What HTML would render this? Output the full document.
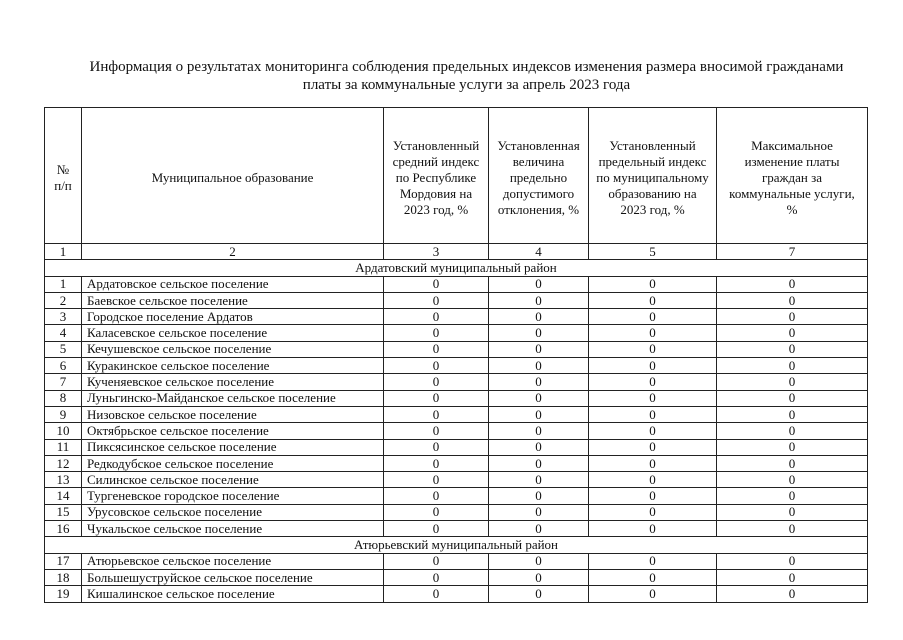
<!DOCTYPE html>
<html><head><meta charset="utf-8"><style>
body{margin:0;width:903px;height:640px;background:#fff;font-family:"Liberation Serif",serif;color:#111;overflow:hidden;position:relative}
.t{position:absolute;left:15px;width:903px;text-align:center;font-size:15px;line-height:18px;top:58px}
table{position:absolute;left:44px;top:107px;border-collapse:collapse;table-layout:fixed;font-size:13px}
td{border:1px solid #222;padding:0;text-align:center;line-height:14px;overflow:hidden;white-space:nowrap}
td.n{text-align:left;padding-left:5px}
tr.r td{height:15.3px;line-height:14px}
.h td{line-height:16px;padding-top:4px}
</style></head><body>
<div class="t">Информация о результатах мониторинга соблюдения предельных индексов изменения размера вносимой гражданами<br>платы за коммунальные услуги за апрель 2023 года</div>
<table>
<colgroup><col style="width:37px"><col style="width:302px"><col style="width:105px"><col style="width:100px"><col style="width:128px"><col style="width:151px"></colgroup>
<tr class="h" style="height:136px"><td>№<br>п/п</td><td>Муниципальное образование</td><td>Установленный<br>средний индекс<br>по Республике<br>Мордовия на<br>2023 год, %</td><td>Установленная<br>величина<br>предельно<br>допустимого<br>отклонения, %</td><td>Установленный<br>предельный индекс<br>по муниципальному<br>образованию на<br>2023 год, %</td><td>Максимальное<br>изменение платы<br>граждан за<br>коммунальные услуги,<br>%</td></tr>
<tr class="r"><td>1</td><td>2</td><td>3</td><td>4</td><td>5</td><td>7</td></tr>
<tr class="r"><td colspan="6">Ардатовский муниципальный район</td></tr>
<tr class="r"><td>1</td><td class="n">Ардатовское сельское поселение</td><td>0</td><td>0</td><td>0</td><td>0</td></tr>
<tr class="r"><td>2</td><td class="n">Баевское сельское поселение</td><td>0</td><td>0</td><td>0</td><td>0</td></tr>
<tr class="r"><td>3</td><td class="n">Городское поселение Ардатов</td><td>0</td><td>0</td><td>0</td><td>0</td></tr>
<tr class="r"><td>4</td><td class="n">Каласевское сельское поселение</td><td>0</td><td>0</td><td>0</td><td>0</td></tr>
<tr class="r"><td>5</td><td class="n">Кечушевское сельское поселение</td><td>0</td><td>0</td><td>0</td><td>0</td></tr>
<tr class="r"><td>6</td><td class="n">Куракинское сельское поселение</td><td>0</td><td>0</td><td>0</td><td>0</td></tr>
<tr class="r"><td>7</td><td class="n">Кученяевское сельское поселение</td><td>0</td><td>0</td><td>0</td><td>0</td></tr>
<tr class="r"><td>8</td><td class="n">Луньгинско-Майданское сельское поселение</td><td>0</td><td>0</td><td>0</td><td>0</td></tr>
<tr class="r"><td>9</td><td class="n">Низовское сельское поселение</td><td>0</td><td>0</td><td>0</td><td>0</td></tr>
<tr class="r"><td>10</td><td class="n">Октябрьское сельское поселение</td><td>0</td><td>0</td><td>0</td><td>0</td></tr>
<tr class="r"><td>11</td><td class="n">Пиксясинское сельское поселение</td><td>0</td><td>0</td><td>0</td><td>0</td></tr>
<tr class="r"><td>12</td><td class="n">Редкодубское сельское поселение</td><td>0</td><td>0</td><td>0</td><td>0</td></tr>
<tr class="r"><td>13</td><td class="n">Силинское сельское поселение</td><td>0</td><td>0</td><td>0</td><td>0</td></tr>
<tr class="r"><td>14</td><td class="n">Тургеневское городское поселение</td><td>0</td><td>0</td><td>0</td><td>0</td></tr>
<tr class="r"><td>15</td><td class="n">Урусовское сельское поселение</td><td>0</td><td>0</td><td>0</td><td>0</td></tr>
<tr class="r"><td>16</td><td class="n">Чукальское сельское поселение</td><td>0</td><td>0</td><td>0</td><td>0</td></tr>
<tr class="r"><td colspan="6">Атюрьевский муниципальный район</td></tr>
<tr class="r"><td>17</td><td class="n">Атюрьевское сельское поселение</td><td>0</td><td>0</td><td>0</td><td>0</td></tr>
<tr class="r"><td>18</td><td class="n">Большешуструйское сельское поселение</td><td>0</td><td>0</td><td>0</td><td>0</td></tr>
<tr class="r"><td>19</td><td class="n">Кишалинское сельское поселение</td><td>0</td><td>0</td><td>0</td><td>0</td></tr>
</table>
</body></html>
